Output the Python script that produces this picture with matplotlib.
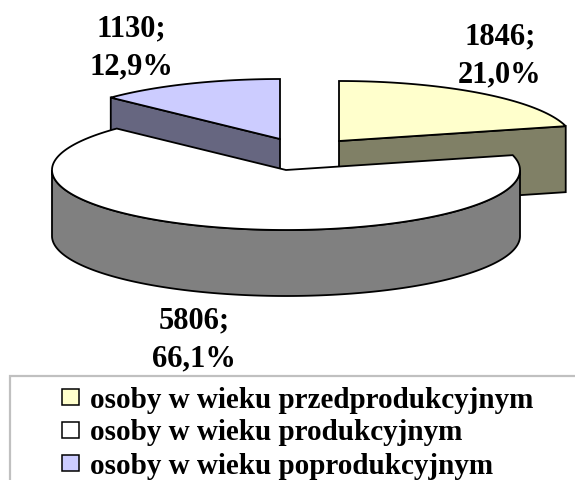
import numpy as np
import matplotlib
matplotlib.use("Agg")
import matplotlib.pyplot as plt
from matplotlib.patches import Polygon, Rectangle

# --- data ---
values = [1846, 5806, 1130]
percent_labels = ["21,0%", "66,1%", "12,9%"]
categories = ["osoby w wieku przedprodukcyjnym",
              "osoby w wieku produkcyjnym",
              "osoby w wieku poprodukcyjnym"]
top_colors = ["#FFFFCC", "#FFFFFF", "#CCCCFF"]
side_colors = ["#808066", "#808080", "#666680"]

# --- layout (pixels) ---
W, H = 575, 480
apexes = [(339, 141), (286, 170), (280, 139)]
RX, RY, DEPTH = 234, 60, 66
label_pos = [(500, 56), (194, 340), (131, 48)]
draw_order = [0, 2, 1]
FONT = "Liberation Serif"

fig = plt.figure(figsize=(W / 100, H / 100), dpi=100)
ax = fig.add_axes([0, 0, 1, 1])
ax.set_xlim(0, W)
ax.set_ylim(H, 0)
ax.axis("off")


def arc(cx, cy, t0, t1, dy=0.0):
    t = np.radians(np.linspace(t0, t1, 240))
    return np.column_stack([cx + RX * np.sin(t), cy - RY * np.cos(t) + dy])


edges = np.concatenate([[0], np.cumsum(values) / np.sum(values) * 360])
LW = 1.3
for i in draw_order:
    cx, cy = apexes[i]
    t0, t1 = edges[i], edges[i + 1]
    side = side_colors[i]
    # cut faces
    for t, visible in ((t1, t1 < 180), (t0, t0 > 180)):
        if visible:
            e = arc(cx, cy, t, t, 0)[0]
            ax.add_patch(Polygon([(cx, cy), e, (e[0], e[1] + DEPTH), (cx, cy + DEPTH)],
                                 closed=True, fc=side, ec="black", lw=LW))
    # outer wall on the front half
    f0, f1 = max(t0, 90), min(t1, 270)
    if f1 > f0:
        up = arc(cx, cy, f0, f1)
        down = arc(cx, cy, f0, f1, DEPTH)
        ax.add_patch(Polygon(np.vstack([up, down[::-1]]), closed=True,
                             fc=side, ec="black", lw=LW))
    # top face
    top = np.vstack([[(cx, cy)], arc(cx, cy, t0, t1)])
    ax.add_patch(Polygon(top, closed=True, fc=top_colors[i], ec="black", lw=LW))

# data labels
for v, p, (x, y) in zip(values, percent_labels, label_pos):
    ax.text(x, y, f"{v};\n{p}", family=FONT, weight="bold", fontsize=22,
            ha="center", va="center", linespacing=1.4, color="black")

# legend
ax.add_patch(Rectangle((10, 376), 600, 150, fc="white", ec="#C0C0C0", lw=1.6, clip_on=True))
legend_y = [397, 430, 463]
for c, name, y in zip(top_colors, categories, legend_y):
    ax.add_patch(Rectangle((62, y - 8), 17, 16, fc=c, ec="black", lw=1.1))
    ax.text(90, y, name, family=FONT, weight="bold", fontsize=21,
            ha="left", va="center_baseline", color="black")

fig.savefig("out.png", dpi=100)
